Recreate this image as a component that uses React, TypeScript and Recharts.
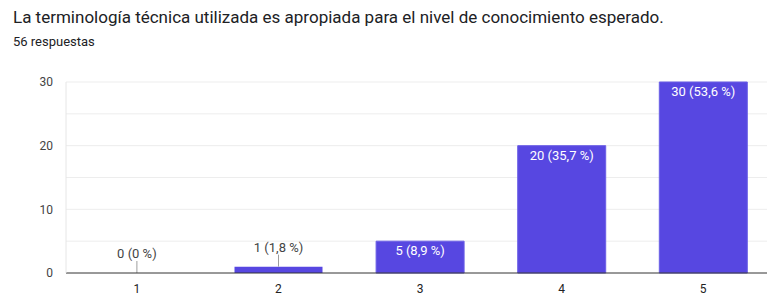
import { BarChart, Bar, XAxis, YAxis, CartesianGrid, Rectangle } from "recharts"

// datos de la encuesta
const categories = ["1", "2", "3", "4", "5"]
const counts = [0, 1, 5, 20, 30]
const totalResponses = 56
const yTicks = [0, 10, 20, 30]
const gridValues = [5, 10, 15, 20, 25, 30]

const title = "La terminología técnica utilizada es apropiada para el nivel de conocimiento esperado."
const subtitle = `${totalResponses} respuestas`

const BAR_COLOR = "#5747e1"
const FONT = "Roboto, 'Noto Sans', Arial, sans-serif"

const formatPct = (v: number): string => {
  const s = ((v / totalResponses) * 100).toFixed(1)
  return (s.endsWith(".0") ? s.slice(0, -2) : s).replace(".", ",")
}

const data = categories.map((c, i) => ({ name: c, value: counts[i] }))

// barra + etiqueta: dentro si cabe, arriba con línea guía si no
const BarWithLabel = (props: any) => {
  const { x, y, width, height, value } = props
  const v = Array.isArray(value) ? value[1] - value[0] : value
  const cx = x + width / 2
  const text = `${v} (${formatPct(v)} %)`
  if (height < 20) {
    return (
      <g>
        {height > 0 && <Rectangle x={x} y={y} width={width} height={height} fill={BAR_COLOR} />}
        <line x1={cx} x2={cx} y1={y - 12} y2={y} stroke="#9e9e9e" strokeWidth={1} />
        <text x={cx} y={y - 15} textAnchor="middle" fontSize={13} fill="#444" fontFamily={FONT}>
          {text}
        </text>
      </g>
    )
  }
  return (
    <g>
      <Rectangle x={x} y={y} width={width} height={height} fill={BAR_COLOR} stroke="#6b5fe6" strokeWidth={1} />
      <text x={cx} y={y + 14} textAnchor="middle" fontSize={13} fill="#ffffff" fontFamily={FONT}>
        {text}
      </text>
    </g>
  )
}

export default function App() {
  return (
    <div
      style={{
        position: "absolute",
        left: 0,
        top: 0,
        width: 767,
        height: 297,
        overflow: "hidden",
        background: "#fff",
        fontFamily: FONT,
      }}
    >
      <div style={{ position: "absolute", left: 13, top: 7, fontSize: 17, color: "#202124", whiteSpace: "nowrap" }}>
        {title}
      </div>
      <div style={{ position: "absolute", left: 13, top: 34, fontSize: 13, color: "#202124" }}>{subtitle}</div>
      <div style={{ position: "absolute", left: 0, top: 0 }}>
        <BarChart
          width={774}
          height={297}
          data={data}
          margin={{ top: 82, right: 0, bottom: 0, left: 0 }}
          barCategoryGap="19%"
        >
          <CartesianGrid vertical={false} horizontalValues={gridValues} stroke="#ededed" />
          <XAxis
            dataKey="name"
            height={24}
            tickLine={false}
            axisLine={{ stroke: "#333", strokeWidth: 1 }}
            tick={{ fontSize: 12, fill: "#222", fontFamily: FONT }}
            tickMargin={5}
          />
          <YAxis
            width={66}
            domain={[0, 30]}
            ticks={yTicks}
            tickLine={false}
            axisLine={{ stroke: "#e6e6e6" }}
            tick={{ fontSize: 12, fill: "#444", fontFamily: FONT }}
            tickMargin={7}
          />
          <Bar dataKey="value" fill={BAR_COLOR} shape={BarWithLabel} isAnimationActive={false} />
        </BarChart>
      </div>
    </div>
  )
}
